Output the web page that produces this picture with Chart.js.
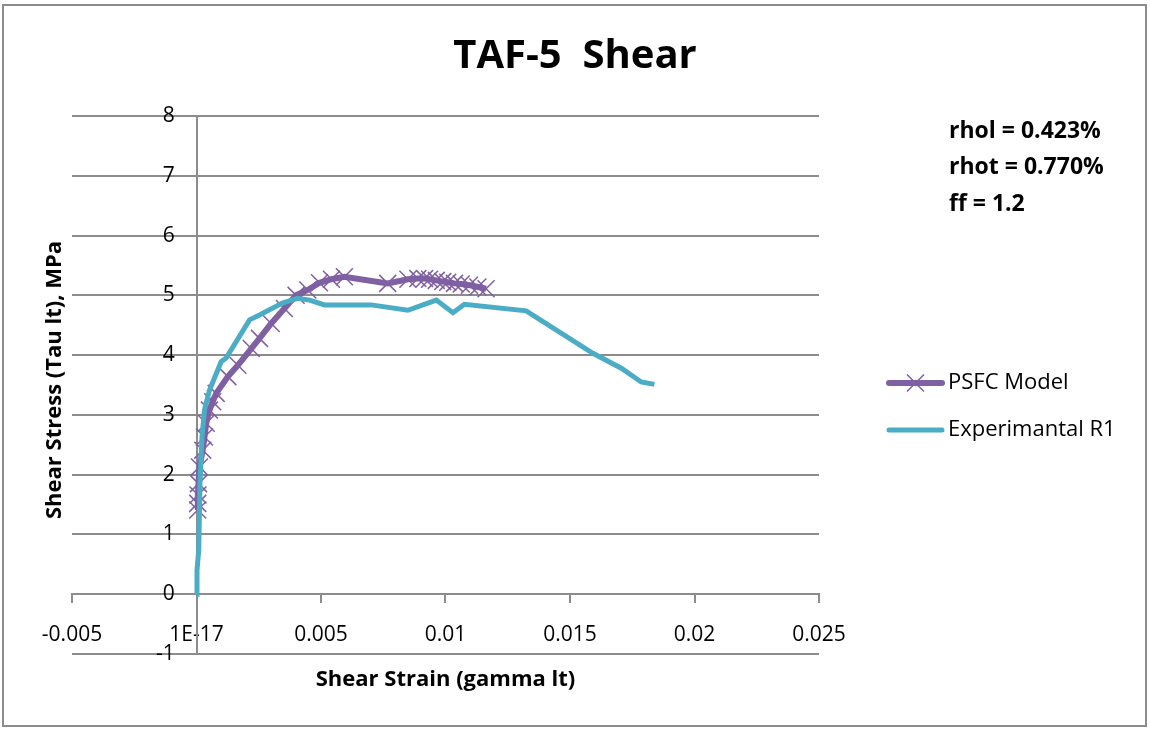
<!DOCTYPE html>
<html>
<head>
<meta charset="utf-8">
<script src="https://cdn.jsdelivr.net/npm/chart.js@4"></script>
<style>
  body { margin: 0; background: #fff; }
  canvas { display: block; }
</style>
</head>
<body>
<canvas id="chart" width="1150" height="731"></canvas>
<script>
// values
const psfcStrain = [0.00005, 0.00005, 0.00006, 0.00008, 0.00012, 0.00025, 0.00032, 0.00039, 0.00052, 0.00065,
  0.00079, 0.00126, 0.00166, 0.0022, 0.00253, 0.003, 0.00353, 0.004, 0.00447, 0.00494,
  0.00542, 0.00594, 0.00768, 0.00849, 0.00889, 0.00916, 0.00936, 0.00963, 0.00989, 0.01009,
  0.01036, 0.01063, 0.01096, 0.0113, 0.01163];
const psfcStress = [1.41, 1.52, 1.66, 1.85, 2.13, 2.41, 2.63, 2.86, 3.08, 3.22,
  3.36, 3.64, 3.83, 4.11, 4.28, 4.53, 4.78, 5.0, 5.09, 5.21,
  5.27, 5.31, 5.2, 5.27, 5.28, 5.28, 5.27, 5.25, 5.23, 5.22,
  5.2, 5.19, 5.17, 5.14, 5.11];

const expStrain = [0, 0.00002, 0.00009, 0.00014, 0.00022, 0.00032, 0.00052, 0.00099, 0.00119, 0.00213,
  0.00253, 0.00345, 0.00406, 0.00454, 0.00514, 0.00702, 0.00849, 0.00963, 0.0103, 0.01076,
  0.01324, 0.01592, 0.01706, 0.01786, 0.01839];
const expStress = [0, 0.4, 0.74, 1.86, 2.63, 3.08, 3.41, 3.89, 3.95, 4.59,
  4.67, 4.87, 4.95, 4.92, 4.84, 4.84, 4.75, 4.92, 4.71, 4.85,
  4.74, 4.03, 3.78, 3.55, 3.51];

const xTickLabels = ['-0.005', '1E-17', '0.005', '0.01', '0.015', '0.02', '0.025'];
const seriesNames = ['PSFC Model', 'Experimantal R1'];
const notes = ['rhol = 0.423%', 'rhot = 0.770%', 'ff = 1.2'];
const chartTitle = 'TAF-5  Shear';

const purple = '#7f60a2';
const cyan = '#4bacc6';
const gridGray = '#8c8c8c';

Chart.defaults.font.family = "'Open Sans', sans-serif";
Chart.defaults.color = '#000';

function toPoints(xs, ys) {
  return xs.map((x, i) => ({ x, y: ys[i] }));
}

// title, axis titles, notes, legend and frame, placed the Excel way
const extras = {
  id: 'extras',
  afterDraw(chart) {
    const ctx = chart.ctx;
    const area = chart.chartArea;
    ctx.save();

    ctx.strokeStyle = gridGray;
    ctx.lineWidth = 2;
    ctx.strokeRect(3, 5, 1143, 721);

    ctx.fillStyle = '#000';
    ctx.textAlign = 'center';
    ctx.textBaseline = 'middle';
    ctx.font = "bold 40px 'Open Sans'";
    ctx.fillText(chartTitle, chart.width / 2, 57);

    ctx.font = "bold 22px 'Open Sans'";
    ctx.fillText('Shear Strain (gamma lt)', (area.left + area.right) / 2, 680);

    ctx.save();
    ctx.translate(55, 380);
    ctx.rotate(-Math.PI / 2);
    ctx.fillText('Shear Stress (Tau lt), MPa', 0, 0);
    ctx.restore();

    ctx.textAlign = 'left';
    ctx.font = "bold 23px 'Open Sans'";
    notes.forEach((t, i) => ctx.fillText(t, 949, 131 + i * 36.5));

    // legend
    ctx.font = "22px 'Open Sans'";
    const colors = [purple, cyan];
    const widths = [6, 5];
    seriesNames.forEach((name, i) => {
      const y = 383 + i * 47;
      ctx.strokeStyle = colors[i];
      ctx.lineWidth = widths[i];
      ctx.lineCap = 'round';
      ctx.beginPath();
      ctx.moveTo(889, y);
      ctx.lineTo(942, y);
      ctx.stroke();
      if (i === 0) {
        ctx.lineWidth = 1.5;
        ctx.lineCap = 'butt';
        ctx.beginPath();
        ctx.moveTo(907, y - 8.5); ctx.lineTo(924, y + 8.5);
        ctx.moveTo(907, y + 8.5); ctx.lineTo(924, y - 8.5);
        ctx.stroke();
      }
      ctx.fillText(name, 948, y);
    });

    ctx.restore();
  }
};

new Chart(document.getElementById('chart'), {
  type: 'scatter',
  data: {
    datasets: [
      {
        label: seriesNames[0],
        data: toPoints(psfcStrain, psfcStress),
        showLine: true,
        borderColor: purple,
        backgroundColor: purple,
        borderWidth: 6,
        tension: 0,
        pointStyle: 'crossRot',
        pointRadius: 12,
        pointBorderWidth: 1.5,
        pointBorderColor: purple,
        order: 1,
      },
      {
        label: seriesNames[1],
        data: toPoints(expStrain, expStress),
        showLine: true,
        borderColor: cyan,
        backgroundColor: cyan,
        borderWidth: 5,
        tension: 0,
        pointRadius: 0,
        order: 0,
      },
    ],
  },
  options: {
    responsive: false,
    animation: false,
    layout: {
      padding: { left: 72, right: 331, top: 116, bottom: 77 },
    },
    plugins: {
      legend: { display: false },
      tooltip: { enabled: false },
      title: { display: false },
    },
    scales: {
      x: {
        type: 'linear',
        position: { y: 0 },
        min: -0.005,
        max: 0.025,
        ticks: {
          stepSize: 0.005,
          padding: 20,
          font: { size: 21 },
          maxRotation: 0,
          callback: (v, i) => xTickLabels[i],
        },
        grid: {
          drawOnChartArea: false,
          drawTicks: true,
          tickLength: 8,
          color: gridGray,
          lineWidth: 2,
        },
        border: { display: true, color: gridGray, width: 2 },
      },
      y: {
        type: 'linear',
        position: { x: 0 },
        min: -1,
        max: 8,
        ticks: {
          stepSize: 1,
          font: { size: 21 },
          callback: (v) => v + '    ',
        },
        grid: {
          drawTicks: false,
          color: gridGray,
          lineWidth: 2,
        },
        border: { display: true, color: gridGray, width: 2 },
      },
    },
  },
  plugins: [extras],
});
</script>
</body>
</html>
